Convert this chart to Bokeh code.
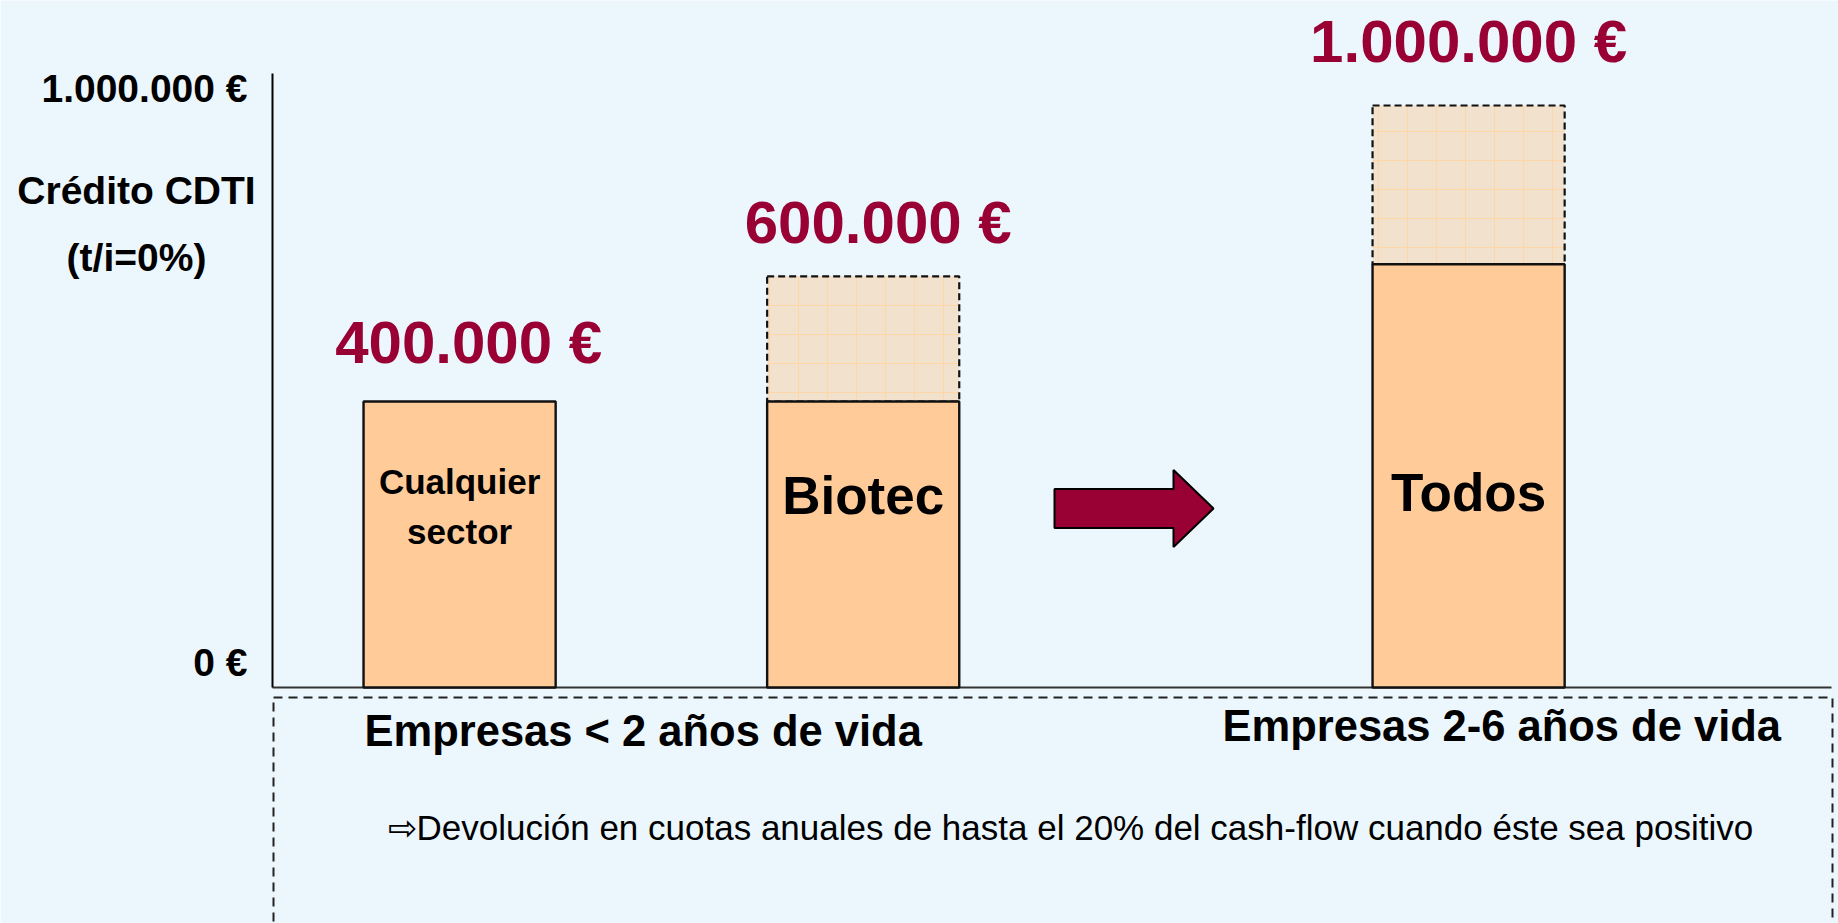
from bokeh.plotting import figure
from bokeh.models import Range1d, LinearAxis, FixedTicker, Label, ColumnDataSource
from bokeh.core.properties import value
from bokeh.embed import file_html
from bokeh.resources import INLINE

# ---------------- data ----------------
categories = ["Cualquier sector", "Biotec", "Todos"]
bar_texts = ["Cualquier\nsector", "Biotec", "Todos"]
base_values = [400000, 400000, 592000]      # solid part of the bar
max_values = [400000, 575000, 814000]       # top of the dashed extension
value_labels = ["400.000 €", "600.000 €", "1.000.000 €"]
group_labels = ["Empresas < 2 años de vida", "Empresas 2-6 años de vida"]
tick_values = [0, 1000000]
tick_labels = ["0 €", "1.000.000 €"]
axis_title = ["Crédito CDTI", "(t/i=0%)"]
note = "\u21e8Devolución en cuotas anuales de hasta el 20% del cash-flow cuando éste sea positivo"

# ---------------- layout ----------------
W, H = 1838, 923
FONT_NAME = "Liberation Sans"
FONT = value(FONT_NAME)
BG = "#ECF7FD"
BAR = "#FFCC99"
EXT = "#F2E2CD"
RED = "#990033"

x_pos = [0.0, 1.0, 2.5]
bar_w = 0.476
XS = 403.6            # px per x unit
X0 = 459.1            # px of x=0
x_range = Range1d(-X0 / XS, (W - X0) / XS)

YS = 715 / 1e6        # px per euro (bars)
Z = 687               # px of y=0
y_range = Range1d(-(H - Z) / YS, Z / YS)

LS = 574 / 1e6        # px per euro (axis label scale)
LZ = 662
lab_range = Range1d(-(H - LZ) / LS, LZ / LS)


def px_x(px):
    return (px - X0) / XS


def px_y(py):
    return (Z - py) / YS


p = figure(width=W, height=H, x_range=x_range, y_range=y_range,
           x_axis_type=None, y_axis_type=None, toolbar_location=None,
           output_backend="svg", min_border_left=0, min_border_right=0,
           min_border_top=0, min_border_bottom=0)
p.background_fill_color = BG
p.border_fill_color = BG
p.outline_line_color = None

p.extra_y_ranges = {"lab": lab_range}
yax = LinearAxis(y_range_name="lab", fixed_location=px_x(272),
                 ticker=FixedTicker(ticks=tick_values),
                 major_label_overrides={v: t for v, t in zip(tick_values, tick_labels)},
                 bounds=((LZ - 687) / LS, (LZ - 73) / LS),
                 major_tick_line_color=None, minor_tick_line_color=None,
                 axis_line_width=2, axis_line_color="black",
                 major_label_standoff=19,
                 major_label_text_font=FONT_NAME, major_label_text_font_style="bold",
                 major_label_text_font_size="39px", major_label_text_color="black")
p.add_layout(yax, "left")

# x axis line
p.segment(x0=[px_x(272)], x1=[px_x(1831)], y0=[0], y1=[0],
          line_color="#333333", line_width=2)

# dashed box below
p.quad(left=[px_x(273)], right=[px_x(1832)], top=[px_y(697)],
       bottom=[px_y(960)], fill_color=None, line_color="#222222",
       line_width=2, line_dash="9 6")

src = ColumnDataSource(dict(
    x=x_pos, left=[x - bar_w / 2 for x in x_pos], right=[x + bar_w / 2 for x in x_pos],
    base=base_values, top=max_values, lab=value_labels,
    gap=[-59, -54, -64], dx=[9, 15, 0]))

ext_idx = [i for i in range(3) if max_values[i] > base_values[i]]
ext = ColumnDataSource(dict(
    left=[src.data["left"][i] for i in ext_idx],
    right=[src.data["right"][i] for i in ext_idx],
    bottom=[base_values[i] for i in ext_idx],
    top=[max_values[i] for i in ext_idx]))

p.quad(left="left", right="right", bottom="bottom", top="top", source=ext,
       fill_color=EXT, hatch_pattern="+", hatch_color="#FFD6A6", hatch_scale=29,
       hatch_weight=1, line_color="#111111", line_width=2.2, line_dash="7 4")

p.quad(left="left", right="right", bottom=0, top="base", source=src,
       fill_color=BAR, line_color="#111111", line_width=2.4)

p.text(x="x", y="top", text="lab", source=src, y_offset="gap", x_offset="dx",
       text_align="center", text_baseline="alphabetic", text_color=RED,
       text_font=FONT, text_font_style="bold", text_font_size="60px")

# texts inside the bars, one glyph row per line
first_base = [481, 495, 492]
size_in = ["35px", "53px", "53px"]
line_gap = 50
tx, ty, tt, ts = [], [], [], []
for i, t in enumerate(bar_texts):
    for j, line in enumerate(t.split("\n")):
        tx.append(x_pos[i])
        ty.append(px_y(first_base[i] + j * line_gap))
        tt.append(line)
        ts.append(size_in[i])
p.text(x=tx, y=ty, text=tt, text_font_size=ts, text_align="center",
       text_baseline="alphabetic", text_color="black", text_font=FONT,
       text_font_style="bold")

# block arrow between the groups
ax0, ax1, axt = px_x(1054), px_x(1173), px_x(1213)
ac, sh, hh = px_y(508), 19.5 / YS, 38.5 / YS
p.patch(x=[ax0, ax1, ax1, axt, ax1, ax1, ax0],
        y=[ac + sh, ac + sh, ac + hh, ac, ac - hh, ac - sh, ac - sh],
        fill_color=RED, line_color="black", line_width=2)

# group labels
p.text(x=[px_x(364), px_x(1222)], y=[px_y(730), px_y(725)], text=group_labels,
       text_align="left", text_baseline="alphabetic", text_color="black",
       text_font=FONT, text_font_style="bold", text_font_size="43.5px")

p.text(x=[px_x(387)], y=[px_y(827)], text=[note], text_align="left",
       text_baseline="alphabetic", text_color="black", text_font=FONT,
       text_font_size="35px")

for t, yy in zip(axis_title, [190, 257]):
    p.add_layout(Label(x=px_x(136), y=px_y(yy), text=t, text_align="center",
                       text_baseline="middle", text_font=FONT_NAME,
                       text_font_style="bold", text_font_size="39px",
                       text_color="black"))

open("out.html", "w").write(file_html(p, INLINE))
